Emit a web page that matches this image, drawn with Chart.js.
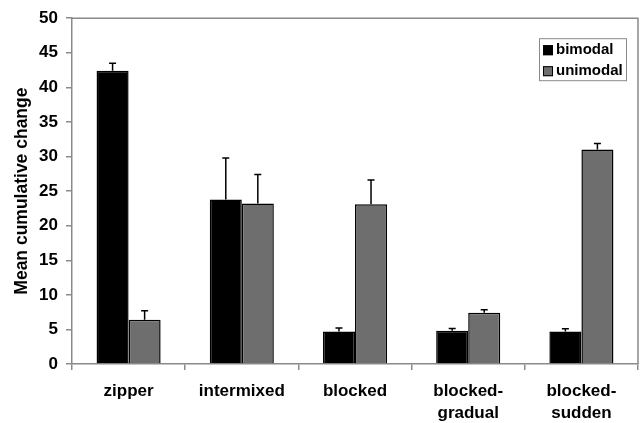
<!DOCTYPE html>
<html>
<head>
<meta charset="utf-8">
<script src="https://cdn.jsdelivr.net/npm/chart.js@4.4.1/dist/chart.umd.min.js"></script>
<style>
  html, body { margin: 0; padding: 0; background: #fff; }
  #wrap { width: 642px; height: 423px; position: relative; }
</style>
</head>
<body>
<div id="wrap"><canvas id="chart"></canvas></div>
<script>
var categories = ['zipper', 'intermixed', 'blocked', ['blocked-', 'gradual'], ['blocked-', 'sudden']];
var bimodal = [42.4, 23.8, 4.7, 4.8, 4.7];
var bimodalErr = [1.1, 6.0, 0.5, 0.35, 0.4];
var unimodal = [6.4, 23.2, 23.1, 7.4, 31.0];
var unimodalErr = [1.3, 4.2, 3.5, 0.45, 0.9];
var yMin = 0, yMax = 50, yStep = 5;

var FONT = '"Liberation Sans", Arial, sans-serif';
var AXIS = '#8a8a8a';

// upper-only error bars, drawn through the y scale
var errorBars = {
    id: 'errorBars',
    afterDatasetsDraw: function(chart) {
        var ctx = chart.ctx;
        var y = chart.scales.y;
        ctx.save();
        ctx.strokeStyle = '#000';
        ctx.lineWidth = 1.5;
        chart.data.datasets.forEach(function(ds, i) {
            var meta = chart.getDatasetMeta(i);
            meta.data.forEach(function(bar, j) {
                var top = y.getPixelForValue(ds.data[j] + ds.errors[j]);
                ctx.beginPath();
                ctx.moveTo(bar.x, bar.y);
                ctx.lineTo(bar.x, top);
                ctx.moveTo(bar.x - 3.5, top);
                ctx.lineTo(bar.x + 3.5, top);
                ctx.stroke();
            });
        });
        ctx.restore();
    }
};

// frame on top/right and boxed legend in the corner
var frameLegend = {
    id: 'frameLegend',
    beforeDatasetsDraw: function(chart) {
        var a = chart.chartArea, ctx = chart.ctx;
        ctx.save();
        ctx.strokeStyle = AXIS;
        ctx.lineWidth = 1.5;
        ctx.beginPath();
        ctx.moveTo(a.left, a.top);
        ctx.lineTo(a.right, a.top);
        ctx.lineTo(a.right, a.bottom);
        ctx.stroke();
        ctx.restore();
    },
    afterDraw: function(chart) {
        var a = chart.chartArea, ctx = chart.ctx;
        var bx = a.right - 99, by = a.top + 20, bw = 87, bh = 42;
        ctx.save();
        ctx.fillStyle = '#fff';
        ctx.fillRect(bx, by, bw, bh);
        ctx.strokeStyle = AXIS;
        ctx.lineWidth = 1;
        ctx.strokeRect(bx + 0.5, by + 0.5, bw, bh);
        ctx.font = 'bold 15px ' + FONT;
        ctx.textBaseline = 'middle';
        chart.data.datasets.forEach(function(ds, i) {
            var cy = by + 12 + i * 21;
            ctx.fillStyle = ds.backgroundColor;
            ctx.fillRect(bx + 4, cy - 5, 10, 10);
            ctx.strokeStyle = '#000';
            ctx.strokeRect(bx + 4.5, cy - 4.5, 9, 9);
            ctx.fillStyle = '#000';
            ctx.fillText(ds.label, bx + 17, cy);
        });
        ctx.restore();
    }
};

var ctx = document.getElementById('chart').getContext('2d');

var chart = new Chart(ctx, {
    type: 'bar',
    data: {
        labels: categories,
        datasets: [{
            label: 'bimodal',
            data: bimodal,
            errors: bimodalErr,
            backgroundColor: '#000000',
            borderColor: '#000000',
            borderWidth: 1.5
        }, {
            label: 'unimodal',
            data: unimodal,
            errors: unimodalErr,
            backgroundColor: '#6e6e6e',
            borderColor: '#000000',
            borderWidth: 1.5
        }]
    },
    options: {
        responsive: true,
        maintainAspectRatio: false,
        animation: false,
        layout: { padding: { top: 14, right: 4, left: 0, bottom: 0 } },
        datasets: { bar: { categoryPercentage: 0.566, barPercentage: 1.0 } },
        plugins: {
            legend: { display: false },
            tooltip: { enabled: false }
        },
        scales: {
            x: {
                grid: { offset: true, drawOnChartArea: false, tickLength: 6, color: AXIS, lineWidth: 1.5 },
                border: { color: AXIS, width: 1.5 },
                ticks: { color: '#000', padding: 11, maxRotation: 0, font: { family: FONT, size: 17, weight: 'bold', lineHeight: 1.25 } },
                afterFit: function(s) { s.height = 59; }
            },
            y: {
                min: yMin,
                max: yMax,
                grid: { drawOnChartArea: false, tickLength: 6, color: AXIS, lineWidth: 1.5 },
                border: { color: AXIS, width: 1.5 },
                ticks: { stepSize: yStep, color: '#000', padding: 8, font: { family: FONT, size: 17, weight: 'bold' } },
                title: {
                    display: true,
                    text: 'Mean cumulative change',
                    color: '#000',
                    padding: { top: 12, bottom: 0 },
                    font: { family: FONT, size: 17.5, weight: 'bold' }
                },
                afterFit: function(s) { s.width = 72; }
            }
        }
    },
    plugins: [errorBars, frameLegend]
});
</script>
</body>
</html>
